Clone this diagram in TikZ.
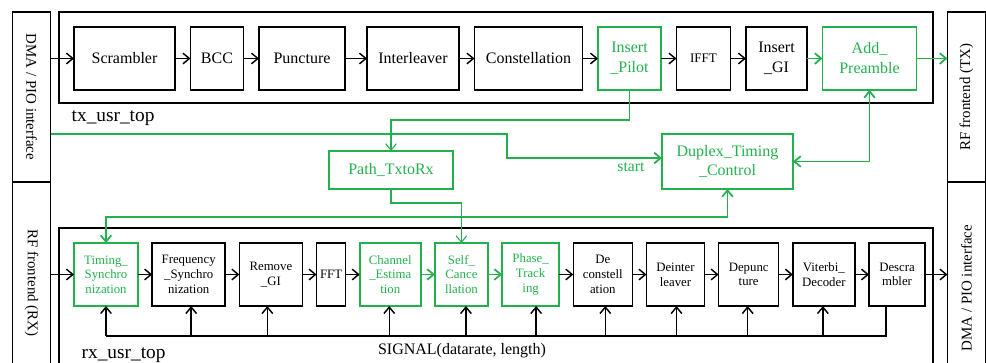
\documentclass[tikz,border=0pt]{standalone}
\usepackage{fontspec}
\setmainfont{Liberation Serif}
\usepackage{graphicx}
\usetikzlibrary{shapes,arrows,arrows.meta,positioning}
\definecolor{hwgreen}{RGB}{34,177,76}
\tikzstyle{Block} = [draw, rectangle, line width=1.2pt, outer sep=0pt, minimum height=47.25pt, inner sep=0pt, align=center, font=\fontsize{12}{15}\selectfont]
\tikzstyle{RxBlock} = [Block, font=\fontsize{9.6}{11}\selectfont]
\tikzstyle{Green} = [draw=hwgreen, text=hwgreen]
\tikzstyle{Side} = [draw, rectangle, line width=1pt, outer sep=0pt, minimum width=28.5pt, inner sep=0pt, font=\fontsize{11.2}{13}\selectfont]
\tikzstyle{Frame} = [draw, line width=1.2pt]
\tikzstyle{Link} = [-{Straight Barb[length=4.8pt,width=8pt]}, line width=1.1pt]
\tikzstyle{GLink} = [Link, draw=hwgreen, line width=1.3pt]
\tikzstyle{Both} = [{Straight Barb[length=4.8pt,width=8pt]}-{Straight Barb[length=4.8pt,width=8pt]}, line width=1.3pt, draw=hwgreen]
\tikzstyle{Thin} = [Link, draw=hwgreen, line width=0.8pt]

\begin{document}
\begin{tikzpicture}[x=0.75pt, y=-0.75pt, node distance=11.625pt]
    \useasboundingbox (0,0) rectangle (986,362);
    \clip (0,0) rectangle (986,362);

    % interfaces
    \node[Side, minimum height=127.5pt] (dmain)  at (31.5,97)  {\rotatebox{-90}{DMA / PIO interface}};
    \node[Side, minimum height=151.5pt] (rfrx)   at (31.5,283) {\rotatebox{-90}{RF frontend (RX)}};
    \node[Side, minimum height=127.5pt] (rftx)   at (966.5,97) {\rotatebox{90}{RF frontend (TX)}};
    \node[Side, minimum height=159pt]   (dmaout) at (966.5,288) {\rotatebox{90}{DMA / PIO interface}};

    % user tops
    \draw[Frame] (59,12) rectangle (933,103);
    \draw[Frame] (59,228) rectangle (933,400);
    \node[anchor=base west, font=\fontsize{14.5}{16}\selectfont] (txlbl) at (67,121) {tx\_usr\_top};
    \node[anchor=base west, font=\fontsize{14.5}{16}\selectfont] (rxlbl) at (77,358) {rx\_usr\_top};

    % tx chain
    \node[Block, anchor=west, minimum width=75.75pt] (scr) at (74,58.5) {Scrambler};
    \node[Block, minimum width=39.75pt, right=of scr]  (bcc)  {BCC};
    \node[Block, minimum width=64.5pt,  right=of bcc]  (pun)  {Puncture};
    \node[Block, minimum width=69pt,    right=16.5pt of pun] (ilv) {Interleaver};
    \node[Block, minimum width=81pt,    right=of ilv]  (cst)  {Constellation};
    \node[Block, Green, minimum width=47.25pt, right=of cst] (ipil) {Insert\\\_Pilot};
    \node[Block, minimum width=40.5pt, right=of ipil, font=\fontsize{9.8}{12}\selectfont] (ifft) {IFFT};
    \node[Block, minimum width=45.75pt, right=of ifft] (igi)  {Insert\\\_GI};
    \node[Block, Green, minimum width=70.5pt, right=of igi] (addp) {Add\_\\Preamble};

    \draw[Link] (dmain.east |- scr) -- (scr);
    \foreach \a/\b in {scr/bcc, bcc/pun, pun/ilv, ilv/cst, cst/ipil, ipil/ifft, ifft/igi}
        \draw[Link] (\a) -- (\b);
    \draw[GLink] (igi) -- (addp);
    \draw[GLink] (addp) -- (addp -| rftx.west);

    % rx chain
    \begin{scope}[node distance=10.64pt]
        \node[RxBlock, Green, anchor=west, minimum width=48pt] (tsync) at (74,274.5) {Timing\_\\Synchro\\nization};
        \node[RxBlock, minimum width=54.75pt, right=of tsync] (fsync) {Frequency\\\_Synchro\\nization};
        \node[RxBlock, minimum width=47.25pt, right=of fsync] (rmgi)  {Remove\\\_GI};
        \node[RxBlock, minimum width=21.75pt, right=of rmgi]  (fft)   {FFT};
        \node[RxBlock, Green, minimum width=45.75pt, right=of fft]   (chest) {Channel\\\_Estima\\tion};
        \node[RxBlock, Green, minimum width=39.75pt, right=of chest] (scan)  {Self\_\\Cance\\llation};
        \node[RxBlock, Green, minimum width=42.75pt, right=of scan]  (ptrk)  {Phase\_\\Track\\ing};
        \node[RxBlock, minimum width=44.25pt, right=of ptrk] (dcon) {De\\constell\\ation};
        \node[RxBlock, minimum width=43.5pt,  right=of dcon] (dint) {Deinter\\leaver};
        \node[RxBlock, minimum width=45pt,    right=of dint] (dpun) {Depunc\\ture};
        \node[RxBlock, minimum width=46.5pt,  right=of dpun] (vit)  {Viterbi\_\\Decoder};
        \node[RxBlock, minimum width=42pt,    right=of vit]  (dscr) {Descra\\mbler};
    \end{scope}

    \draw[Link] (rfrx.east |- tsync) -- (tsync);
    \foreach \a/\b in {tsync/fsync, fsync/rmgi, rmgi/fft, fft/chest, ptrk/dcon, dcon/dint, dint/dpun, dpun/vit, vit/dscr}
        \draw[Link] (\a) -- (\b);
    \draw[GLink] (chest) -- (scan);
    \draw[GLink] (scan) -- (ptrk);
    \draw[Link] (dscr) -- (dscr -| dmaout.west);

    % SIGNAL bus
    \coordinate (busl) at (106,336);
    \draw[line width=1.1pt] ([xshift=-8.25pt]dscr.south) -- ([xshift=-8.25pt]dscr.south |- busl) -- (busl);
    \foreach \n/\dx in {tsync/0, fsync/2.5, rmgi/-3.5, chest/-1, scan/4.5, ptrk/5.5, dcon/2.5, dint/1, dpun/-1, vit/-1}
        \draw[Link] ([xshift=\dx*0.75pt]\n.south |- busl) -- ([xshift=\dx*0.75pt]\n.south);
    \node[font=\fontsize{12}{14}\selectfont] (siglbl) at (462,351) {SIGNAL(datarate, length)};

    % duplex path
    \node[Block, Green, minimum width=93pt, minimum height=28.5pt] (ptr) at (391,170) {Path\_TxtoRx};
    \node[Block, Green, minimum width=98.25pt, minimum height=41.25pt, font=\fontsize{12}{14.3}\selectfont] (dtc) at (727.5,161.5) {Duplex\_Timing\\\_Control};

    \draw[Thin] (ipil.south) -- ++(0,30) -| (ptr.north);
    \draw[Thin] (ptr.south) -- ++(0,14) -| (scan.north);
    \coordinate (stbend) at (507,134);
    \draw[GLink] (dmain.east |- stbend) -- (stbend) |- node[pos=0.9, below, inner sep=2.5pt, text=hwgreen, font=\fontsize{11.8}{13}\selectfont] {start} ([yshift=2.6pt]dtc.west);
    \draw[Both] (addp.south) |- (dtc.east);
    \draw[Both] (dtc.south) -- ++(0,28) -| (tsync.north);
\end{tikzpicture}
\end{document}
